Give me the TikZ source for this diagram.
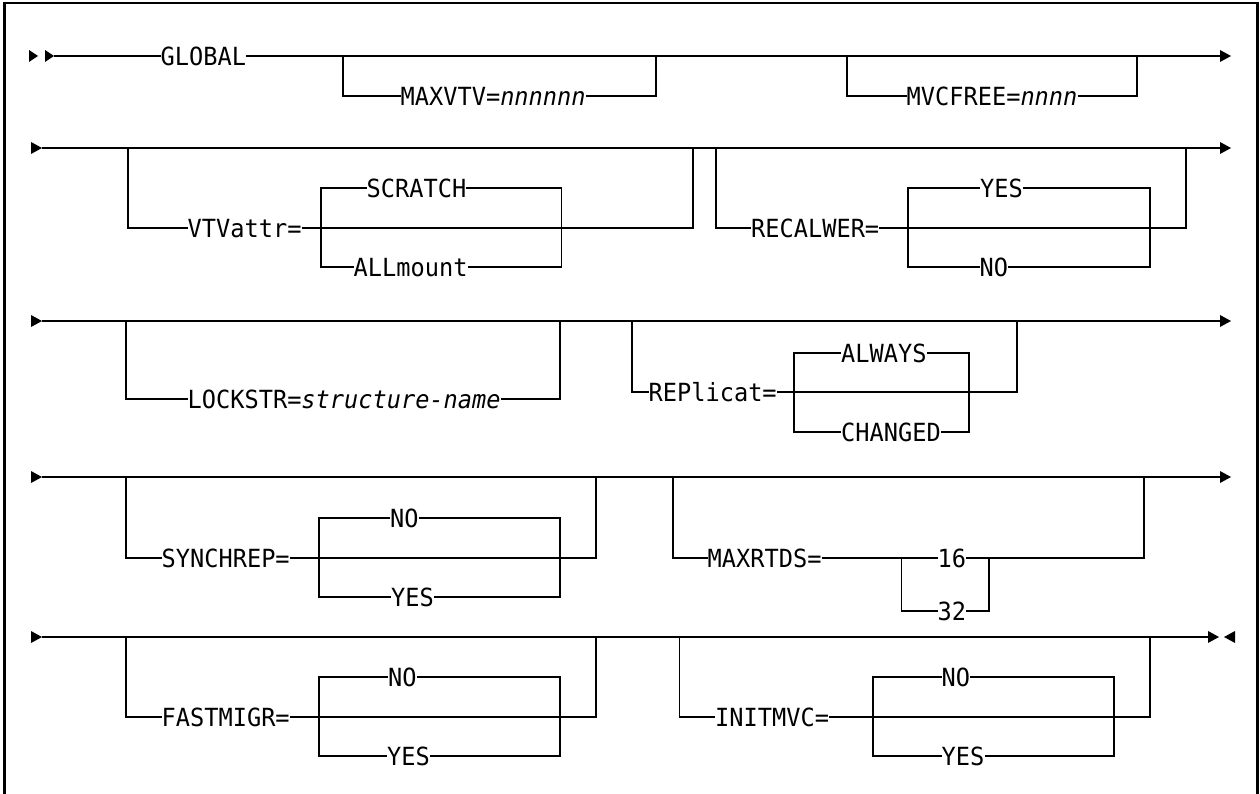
\documentclass[tikz,border=0pt]{standalone}
\usepackage{fontspec}
\setmonofont[FakeStretch=0.945]{DejaVu Sans Mono}
\begin{document}
\begin{tikzpicture}[x=1pt,y=-1pt,
  rail/.style={line width=1.9pt},
  lab/.style={inner sep=0pt, anchor=west, text height=18.2pt, text depth=0pt,
              font=\fontsize{25}{30}\selectfont\ttfamily},
  arr/.pic={\fill (-11,-6) -- (0,0) -- (-11,6) -- cycle;},
  arrs/.pic={\fill (-9,-6) -- (0,0) -- (-9,6) -- cycle;},
  larr/.pic={\fill (11,-6) -- (0,0) -- (11,6) -- cycle;}]
\useasboundingbox (0,0) rectangle (1260,794);
\fill[white] (0,0) rectangle (1260,794);
% frame
\draw[line width=2.2pt] (4.5,794) -- (4.5,3) -- (1257.5,3) -- (1257.5,794);

% ---------------- Row 1 ----------------
\pic at (38,56) {arrs};
\pic at (54,56) {arrs};
\coordinate (r1s) at (54,56);
\coordinate (r1e) at (1220,56);
\node[lab] (global) at (160.5,56) {GLOBAL};
\draw[rail] (r1s) -- (global.west);
\draw[rail] (global.east) -- (r1e);
\pic at (1231,56) {arr};
\coordinate (a0) at (343,56);  \coordinate (a1) at (656,56);
\node[lab] (maxvtv) at (400.5,96) {MAXVTV=\itshape nnnnnn};
\draw[rail] (a0) |- (maxvtv.west);
\draw[rail] (maxvtv.east) -| (a1);
\coordinate (b0) at (847,56);  \coordinate (b1) at (1137,56);
\node[lab] (mvcfree) at (906.5,96) {MVCFREE=\itshape nnnn};
\draw[rail] (b0) |- (mvcfree.west);
\draw[rail] (mvcfree.east) -| (b1);

% ---------------- Row 2 ----------------
\pic at (42,148) {arr};
\coordinate (r2s) at (42,148);
\coordinate (r2e) at (1220,148);
\draw[rail] (r2s) -- (r2e);
\pic at (1231,148) {arr};
% VTVattr
\coordinate (c0) at (128,148);  \coordinate (c1) at (693,148);
\node[lab] (vtv) at (187.5,228) {VTVattr=};
\draw[rail] (c0) |- (vtv.west);
\draw[rail] (vtv.east) -| (c1);
\coordinate (cbl) at (320.6,228);  \coordinate (cbr) at (561.5,228);
\node[lab] (scratch) at (366.5,188) {SCRATCH};
\node[lab] (allm) at (353.5,267) {ALLmount};
\draw[rail] (scratch.west) -| (cbl) |- (allm.west);
\draw[rail] (scratch.east) -| (cbr) |- (allm.east);
% RECALWER
\coordinate (d0) at (716,148);  \coordinate (d1) at (1186,148);
\node[lab] (recal) at (751,228) {RECALWER=};
\draw[rail] (d0) |- (recal.west);
\draw[rail] (recal.east) -| (d1);
\coordinate (dbl) at (908.4,228);  \coordinate (dbr) at (1149.7,228);
\node[lab] (ryes) at (980,188) {YES};
\node[lab] (rno) at (979.5,267) {NO};
\draw[rail] (ryes.west) -| (dbl) |- (rno.west);
\draw[rail] (ryes.east) -| (dbr) |- (rno.east);

% ---------------- Row 3 ----------------
\pic at (42,321) {arr};
\coordinate (r3s) at (42,321);
\coordinate (r3e) at (1220,321);
\draw[rail] (r3s) -- (r3e);
\pic at (1231,321) {arr};
% LOCKSTR
\coordinate (e0) at (126,321);  \coordinate (e1) at (560,321);
\node[lab] (lock) at (187.5,399) {LOCKSTR=\itshape structure-name};
\draw[rail] (e0) |- (lock.west);
\draw[rail] (lock.east) -| (e1);
% REPlicat
\coordinate (f0) at (632,321);  \coordinate (f1) at (1017,321);
\node[lab] (repl) at (648.5,392) {REPlicat=};
\draw[rail] (f0) |- (repl.west);
\draw[rail] (repl.east) -| (f1);
\coordinate (fbl) at (794,392);  \coordinate (fbr) at (968.7,392);
\node[lab] (always) at (841,353) {ALWAYS};
\node[lab] (changed) at (841,432) {CHANGED};
\draw[rail] (always.west) -| (fbl) |- (changed.west);
\draw[rail] (always.east) -| (fbr) |- (changed.east);

% ---------------- Row 4 ----------------
\pic at (42,477) {arr};
\coordinate (r4s) at (42,477);
\coordinate (r4e) at (1220,477);
\draw[rail] (r4s) -- (r4e);
\pic at (1231,477) {arr};
% SYNCHREP
\coordinate (g0) at (126,477);  \coordinate (g1) at (596,477);
\node[lab] (synch) at (161.5,558) {SYNCHREP=};
\draw[rail] (g0) |- (synch.west);
\draw[rail] (synch.east) -| (g1);
\coordinate (gbl) at (318.6,558);  \coordinate (gbr) at (560,558);
\node[lab] (sno) at (390,518) {NO};
\node[lab] (syes) at (391,597) {YES};
\draw[rail] (sno.west) -| (gbl) |- (syes.west);
\draw[rail] (sno.east) -| (gbr) |- (syes.east);
% MAXRTDS
\coordinate (h0) at (673.4,477);  \coordinate (h1) at (1143.7,477);
\node[lab] (maxr) at (707.5,558) {MAXRTDS=};
\node[lab] (n16) at (937.5,558) {16};
\node[lab] (n32) at (937.5,611) {32};
\draw[rail] (h0) |- (maxr.west);
\draw[rail] (maxr.east) -- (n16.west);
\draw[rail] (n16.east) -| (h1);
\coordinate (hbl) at (901.5,558);  \coordinate (hbr) at (988.8,558);
\draw[rail] (hbl) |- (n32.west);
\draw[rail] (n32.east) -| (hbr);

% ---------------- Row 5 ----------------
\pic at (42,637) {arr};
\coordinate (r5s) at (42,637);
\coordinate (r5e) at (1208,637);
\draw[rail] (r5s) -- (r5e);
\pic at (1219,637) {arr};
\pic at (1224,637) {larr};
% FASTMIGR
\coordinate (k0) at (126,637);  \coordinate (k1) at (596,637);
\node[lab] (fast) at (161.5,717) {FASTMIGR=};
\draw[rail] (k0) |- (fast.west);
\draw[rail] (fast.east) -| (k1);
\coordinate (kbl) at (318.6,717);  \coordinate (kbr) at (560,717);
\node[lab] (fno) at (388,677) {NO};
\node[lab] (fyes) at (387,756) {YES};
\draw[rail] (fno.west) -| (kbl) |- (fyes.west);
\draw[rail] (fno.east) -| (kbr) |- (fyes.east);
% INITMVC
\coordinate (m0) at (679.5,637);  \coordinate (m1) at (1149.7,637);
\node[lab] (initm) at (715,717) {INITMVC=};
\draw[rail] (m0) |- (initm.west);
\draw[rail] (initm.east) -| (m1);
\coordinate (mbl) at (872.6,717);  \coordinate (mbr) at (1114,717);
\node[lab] (ino) at (941.5,677) {NO};
\node[lab] (iyes) at (941.5,756) {YES};
\draw[rail] (ino.west) -| (mbl) |- (iyes.west);
\draw[rail] (ino.east) -| (mbr) |- (iyes.east);
\end{tikzpicture}
\end{document}
